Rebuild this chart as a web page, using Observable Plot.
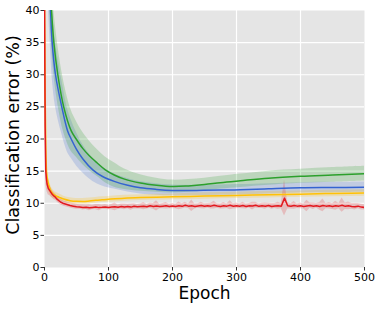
<!DOCTYPE html>
<html>
<head>
<meta charset="utf-8">
<script src="https://cdn.jsdelivr.net/npm/d3@7"></script>
<script src="https://cdn.jsdelivr.net/npm/@observablehq/plot@0.6"></script>
<style>
  html, body { margin: 0; padding: 0; background: white; }
</style>
</head>
<body>
<div id="chart"></div>
<script>
const xTicks = [0, 100, 200, 300, 400, 500];
const yTicks = [0, 5, 10, 15, 20, 25, 30, 35, 40];
const xLabel = "Epoch";
const yLabel = "Classification error (%)";

// Green series
const greenEpoch = [5, 8, 11, 14.6, 20.8, 30, 41.6, 49.5, 60, 70, 82, 95, 109, 125, 150, 175, 200, 225, 250, 275, 306, 350, 400, 450, 500];
const greenMean  = [53, 46, 40, 35, 30, 25, 21.3, 20, 18.5, 17.4, 16.3, 15.2, 14.4, 13.75, 13.15, 12.8, 12.6, 12.7, 12.9, 13.2, 13.5, 13.9, 14.2, 14.4, 14.6];
const greenStd   = [6, 6, 5.5, 5, 4.6, 4, 3.2, 2.8, 2.5, 2.3, 2.1, 2.0, 1.9, 1.6, 1.3, 1.1, 1.0, 1.0, 1.0, 1.0, 1.05, 1.1, 1.1, 1.15, 1.15];

// Blue series
const blueEpoch = [4, 7, 9.4, 12, 17.2, 27, 36, 41.7, 50, 60, 75.5, 90, 109, 130, 150, 175, 200, 238, 275, 306, 350, 400, 450, 500];
const blueMean  = [51, 44.5, 40, 35, 30, 25, 21.3, 20, 18.4, 16.9, 15.2, 14.2, 13.4, 12.8, 12.4, 12.15, 12.0, 12.0, 12.05, 12.1, 12.25, 12.4, 12.45, 12.5];
const blueStd   = [6, 6, 6, 5.5, 5, 4.2, 3.4, 3.0, 2.6, 2.2, 1.8, 1.5, 1.2, 1.05, 0.95, 0.9, 0.85, 0.8, 0.8, 0.8, 0.8, 0.8, 0.8, 0.8];

// Yellow series
const yellowEpoch = [0, 1, 2, 3, 4, 5, 6, 8, 10, 12, 15, 20, 25, 30, 40, 50, 60, 70, 80, 90, 100, 125, 150, 175, 200, 250, 300, 350, 400, 450, 500];
const yellowMean  = [44, 27, 19, 15.3, 14.2, 13.6, 13.1, 12.4, 11.9, 11.6, 11.3, 11.05, 10.85, 10.65, 10.4, 10.3, 10.28, 10.35, 10.45, 10.55, 10.62, 10.78, 10.88, 10.95, 11.0, 11.12, 11.22, 11.32, 11.42, 11.52, 11.6];
const yellowStd   = [3, 2.5, 2, 1.6, 1.3, 1.1, 1.0, 0.9, 0.8, 0.7, 0.6, 0.55, 0.5, 0.45, 0.45, 0.45, 0.45, 0.45, 0.45, 0.45, 0.45, 0.45, 0.45, 0.45, 0.45, 0.5, 0.5, 0.5, 0.5, 0.5, 0.5];

// Red series (early part)
const redEarlyEpoch = [0, 1, 2, 3, 4, 6, 8, 10, 12, 15, 17, 20, 25, 30, 40, 45];
const redEarlyMean  = [42, 22, 15, 13.8, 13.0, 12.3, 12.0, 11.7, 11.4, 11.1, 10.95, 10.6, 10.2, 9.95, 9.65, 9.55];
const redEarlyStd   = [3, 2.5, 2, 1.5, 1.2, 1.0, 0.8, 0.7, 0.6, 0.55, 0.5, 0.45, 0.45, 0.4, 0.4, 0.4];
// Red series (every 5 epochs from 50 to 500)
const redLateMean = [9.45, 9.4, 9.35, 9.38, 9.3, 9.35, 9.4, 9.32, 9.36, 9.42,
  9.35, 9.4, 9.45, 9.38, 9.5, 9.42, 9.48, 9.4, 9.52, 9.45,
  9.5, 9.55, 9.46, 9.6, 9.5, 9.58, 9.48, 9.55, 9.62, 9.5,
  9.56, 9.48, 9.6, 9.52, 9.7, 9.55, 9.62, 9.5, 9.58, 9.66,
  9.52, 9.6, 9.55, 9.7, 9.58, 9.5, 9.62, 9.55, 9.68, 9.52,
  9.6, 9.55, 9.65, 9.5, 9.62, 9.56, 9.7, 9.52, 9.6, 9.55,
  9.65, 9.5, 9.58, 9.62, 9.55, 10.8, 9.6, 9.52, 9.66, 9.55,
  9.6, 9.5, 9.58, 9.64, 9.52, 9.6, 9.5, 9.66, 9.55, 9.6,
  9.48, 9.62, 9.55, 9.7, 9.52, 9.6, 9.5, 9.45, 9.55, 9.4, 9.35];
const redLateStd = [0.4, 0.35, 0.4, 0.35, 0.45, 0.35, 0.4, 0.5, 0.35, 0.4,
  0.35, 0.4, 0.6, 0.35, 0.4, 0.45, 0.35, 0.5, 0.4, 0.35,
  0.4, 0.55, 0.35, 0.4, 0.45, 0.8, 0.35, 0.4, 0.5, 0.35,
  0.4, 0.35, 0.6, 0.4, 0.45, 0.35, 0.9, 0.4, 0.35, 0.5,
  0.4, 0.35, 0.45, 0.6, 0.35, 0.4, 0.5, 0.35, 0.7, 0.4,
  0.45, 0.35, 0.5, 0.4, 0.35, 0.6, 0.45, 0.35, 0.4, 0.5,
  0.35, 0.45, 0.4, 0.55, 0.4, 2.8, 0.5, 0.4, 0.6, 0.35,
  0.45, 0.4, 0.9, 0.4, 0.5, 0.35, 0.6, 1.0, 0.4, 0.5,
  0.45, 0.7, 0.4, 1.1, 0.5, 0.6, 0.45, 0.5, 0.4, 0.45, 0.4];
const redLateEpoch = d3.range(50, 501, 5);

const colors = { green: "#2ca02c", blue: "#3463d1", yellow: "#ffc107", red: "#e3191f" };

function rows(epochs, mean, std) {
  return epochs.map((x, i) => ({ x, y: mean[i], lo: mean[i] - std[i], hi: mean[i] + std[i] }));
}
const green = rows(greenEpoch, greenMean, greenStd);
const blue = rows(blueEpoch, blueMean, blueStd);
const yellow = rows(yellowEpoch, yellowMean, yellowStd);
const red = rows(redEarlyEpoch.concat(redLateEpoch), redEarlyMean.concat(redLateMean), redEarlyStd.concat(redLateStd));

const band = (data, c, op, curve) => Plot.areaY(data, { x: "x", y1: "lo", y2: "hi", fill: c, fillOpacity: op, curve, clip: true });
const line = (data, c, curve) => Plot.lineY(data, { x: "x", y: "y", stroke: c, strokeWidth: 1.5, curve, clip: true });

const chart = Plot.plot({
  width: 381,
  height: 309,
  marginLeft: 44,
  marginRight: 17,
  marginTop: 10,
  marginBottom: 42,
  style: { fontFamily: "DejaVu Sans", fontSize: "11px", background: "white", color: "black" },
  x: { domain: [0, 500] },
  y: { domain: [0, 40] },
  marks: [
    Plot.frame({ fill: "#e5e5e5", stroke: null }),
    Plot.gridX(xTicks.slice(1, -1), { stroke: "white", strokeOpacity: 1, strokeWidth: 1.2 }),
    Plot.gridY(yTicks.slice(1, -1), { stroke: "white", strokeOpacity: 1, strokeWidth: 1.2 }),
    band(blue, colors.blue, 0.2, "catmull-rom"),
    band(green, colors.green, 0.22, "catmull-rom"),
    band(yellow, colors.yellow, 0.22, "monotone-x"),
    band(red, colors.red, 0.2, "linear"),
    line(yellow, colors.yellow, "monotone-x"),
    line(red, colors.red, "linear"),
    line(blue, colors.blue, "catmull-rom"),
    line(green, colors.green, "catmull-rom"),
    Plot.axisX(xTicks, { tickSize: 3.5, tickPadding: 2, fontSize: 11, label: null, stroke: "#333" }),
    Plot.axisY(yTicks, { tickSize: 3.5, tickPadding: 1.5, fontSize: 11, label: null, stroke: "#333" }),
    Plot.text([xLabel], { frameAnchor: "bottom", lineAnchor: "middle", textAnchor: "middle", dy: 26, fontSize: 17 }),
    Plot.text([yLabel], { frameAnchor: "left", rotate: -90, textAnchor: "middle", lineAnchor: "middle", dx: -31, dy: -4, fontSize: 17.5 })
  ]
});
document.getElementById("chart").appendChild(chart);
</script>
</body>
</html>
